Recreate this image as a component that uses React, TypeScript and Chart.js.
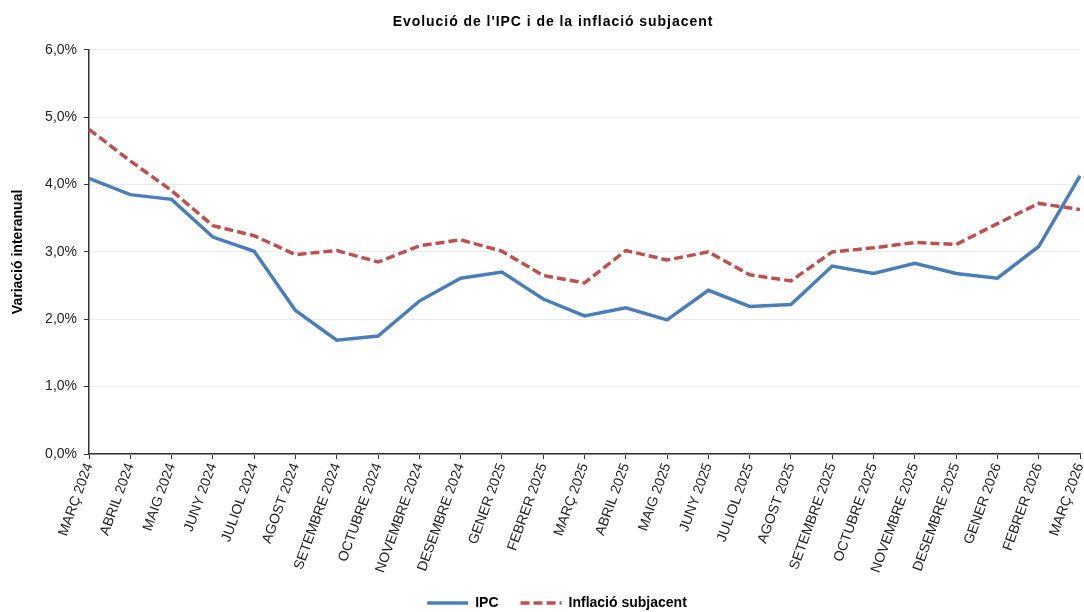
import React, { useEffect, useRef } from "react";
import { Chart, registerables } from "chart.js";

Chart.register(...registerables);

const categories = [
  "MARÇ 2024", "ABRIL 2024", "MAIG 2024", "JUNY 2024", "JULIOL 2024", "AGOST 2024",
  "SETEMBRE 2024", "OCTUBRE 2024", "NOVEMBRE 2024", "DESEMBRE 2024", "GENER 2025",
  "FEBRER 2025", "MARÇ 2025", "ABRIL 2025", "MAIG 2025", "JUNY 2025", "JULIOL 2025",
  "AGOST 2025", "SETEMBRE 2025", "OCTUBRE 2025", "NOVEMBRE 2025", "DESEMBRE 2025",
  "GENER 2026", "FEBRER 2026", "MARÇ 2026",
];

const ipc = [
  4.09, 3.85, 3.78, 3.22, 3.01, 2.13, 1.69, 1.75, 2.27, 2.61, 2.70, 2.30, 2.05,
  2.17, 1.99, 2.43, 2.19, 2.22, 2.79, 2.68, 2.83, 2.68, 2.61, 3.08, 4.13,
];

const subjacent = [
  4.82, 4.35, 3.91, 3.39, 3.24, 2.96, 3.02, 2.85, 3.09, 3.18, 3.01, 2.65, 2.54,
  3.02, 2.88, 3.00, 2.66, 2.57, 3.00, 3.06, 3.14, 3.11, 3.42, 3.72, 3.63,
];

const yMin = 0;
const yMax = 6;
const yStep = 1;

const FONT = "'Liberation Sans', Arial, Helvetica, sans-serif";
const LINE_W = 3.5;

export default function App() {
  const ref = useRef<HTMLCanvasElement>(null);

  useEffect(() => {
    const adjustBoxes = {
      id: "adjustBoxes",
      afterLayout(chart: any) {
        const lg = chart.legend;
        if (lg) {
          const h = lg.bottom - lg.top;
          lg.left += 15;
          lg.right += 15;
          lg.top = 603 - 22 - 7;
          lg.bottom = lg.top + h;
        }
        const tb = chart.titleBlock;
        if (tb && !tb.__wrapped) {
          const orig = tb.draw.bind(tb);
          tb.draw = function (...args: any[]) {
            const ctx = chart.ctx;
            ctx.save();
            ctx.translate(11, 0);
            try {
              (ctx as any).letterSpacing = "0.95px";
            } catch (e) {}
            orig(...args);
            ctx.restore();
          };
          tb.__wrapped = true;
        }
      },
    };

    const chart = new Chart(ref.current!, {
      type: "line",
      data: {
        labels: categories,
        datasets: [
          {
            label: "IPC",
            data: ipc,
            borderColor: "#4A7EBB",
            backgroundColor: "#4A7EBB",
            borderWidth: LINE_W,
            pointRadius: 0,
            pointHoverRadius: 0,
            pointStyle: "line",
            tension: 0,
          },
          {
            label: "Inflació subjacent",
            data: subjacent,
            borderColor: "#C0504D",
            backgroundColor: "#C0504D",
            borderWidth: LINE_W,
            borderDash: [9, 4],
            pointRadius: 0,
            pointHoverRadius: 0,
            pointStyle: "line",
            tension: 0,
          },
        ],
      },
      options: {
        animation: false,
        responsive: false,
        maintainAspectRatio: false,
        layout: { padding: { top: 0, right: 0, bottom: -47, left: 0 } },
        plugins: {
          title: {
            display: true,
            text: "Evolució de l'IPC i de la inflació subjacent",
            color: "#000",
            font: { family: FONT, size: 14, weight: "bold" },
            padding: { top: 14, bottom: 19 },
          },
          legend: {
            display: true,
            position: "bottom",
            labels: {
              usePointStyle: true,
              pointStyleWidth: 41,
              boxHeight: 12,
              color: "#000",
              font: { family: FONT, size: 14, weight: "bold" },
              padding: 22,
              generateLabels: (c: any) => {
                const items = (Chart.defaults.plugins.legend.labels as any).generateLabels(c);
                items.forEach((it: any) => {
                  const ds: any = c.data.datasets[it.datasetIndex];
                  it.lineDash = ds.borderDash || [];
                  it.lineWidth = LINE_W;
                  it.strokeStyle = ds.borderColor;
                  it.fillStyle = ds.borderColor;
                  it.pointStyle = "line";
                });
                return items;
              },
            },
          },
          tooltip: { enabled: false },
        },
        scales: {
          x: {
            offset: false,
            grid: {
              display: true,
              drawOnChartArea: false,
              drawTicks: true,
              tickLength: 5,
              tickColor: "#333",
            },
            border: { display: true, color: "#333", width: 1.5 },
            ticks: {
              autoSkip: false,
              minRotation: 70,
              maxRotation: 70,
              color: "#222",
              font: { family: FONT, size: 14 },
              padding: 2,
            },
            afterFit(scale: any) {
              scale.paddingRight = 4;
              scale.paddingLeft = 0;
              scale.height = 159;
            },
          },
          y: {
            min: yMin,
            max: yMax,
            grid: {
              color: "#EBEBEB",
              lineWidth: 1,
              tickLength: 5,
              tickColor: "#333",
            },
            border: { display: true, color: "#333", width: 1.5 },
            ticks: {
              stepSize: yStep,
              color: "#222",
              font: { family: FONT, size: 14 },
              padding: 7,
              callback: (v: any) => Number(v).toFixed(1).replace(".", ",") + "%",
            },
            title: {
              display: true,
              text: "Variació interanual",
              color: "#000",
              font: { family: FONT, size: 14, weight: "bold" },
              padding: { top: 10, bottom: 0 },
            },
            afterFit(scale: any) {
              scale.width = 89;
            },
          },
        },
      },
      plugins: [adjustBoxes],
    });
    return () => chart.destroy();
  }, []);

  return (
    <div
      style={{
        position: "absolute",
        left: 0,
        top: 0,
        width: 1084,
        height: 612,
        background: "#fff",
      }}
    >
      <canvas ref={ref} width={1084} height={612} style={{ display: "block" }} />
    </div>
  );
}
